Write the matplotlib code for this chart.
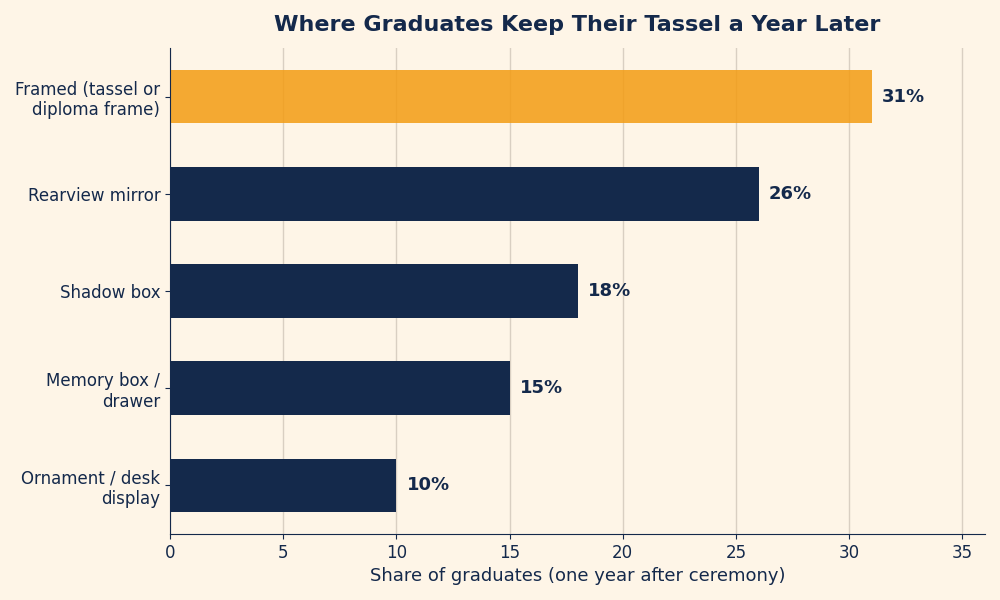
import matplotlib
matplotlib.use("Agg")
import matplotlib.pyplot as plt

categories = ["Framed (tassel or\ndiploma frame)", "Rearview mirror", "Shadow box",
              "Memory box /\ndrawer", "Ornament / desk\ndisplay"]
shares = [31, 26, 18, 15, 10]
labels = ["31%", "26%", "18%", "15%", "10%"]

bg = "#FEF5E7"
navy = "#14294B"
orange = "#F39C12"

fig, ax = plt.subplots(figsize=(10, 6), dpi=100)
fig.patch.set_facecolor(bg)
ax.set_facecolor(bg)

ypos = list(range(len(shares)))[::-1]
# highlighted bar is a bit see-through, grid shows through it
ax.barh(ypos[0], shares[0], height=0.55, color=orange, alpha=0.85, zorder=2)
ax.barh(ypos[1:], shares[1:], height=0.55, color=navy, zorder=2)

for y, v, lab in zip(ypos, shares, labels):
    ax.text(v + 0.45, y, lab, va="center", ha="left", fontsize=13,
            fontweight="bold", color=navy)

ax.set_yticks(ypos)
ax.set_yticklabels(categories, fontsize=12, color=navy)
ax.set_xlim(0, 36)
ax.set_ylim(-0.5, 4.5)
ax.set_xticks(range(0, 36, 5))
ax.tick_params(axis="x", labelsize=12, colors=navy)
ax.tick_params(axis="y", colors=navy)
ax.xaxis.grid(True, color="#D9CFC2", linewidth=1, zorder=0)
ax.set_axisbelow(True)
for s in ["top", "right"]:
    ax.spines[s].set_visible(False)
for s in ["left", "bottom"]:
    ax.spines[s].set_color(navy)
    ax.spines[s].set_zorder(5)

ax.set_xlabel("Share of graduates (one year after ceremony)", fontsize=13, color=navy)
ax.set_title("Where Graduates Keep Their Tassel a Year Later", fontsize=16,
             fontweight="bold", color=navy, pad=12)

plt.subplots_adjust(left=0.17, right=0.985, top=0.92, bottom=0.11)
plt.savefig("out.png", facecolor=bg)
